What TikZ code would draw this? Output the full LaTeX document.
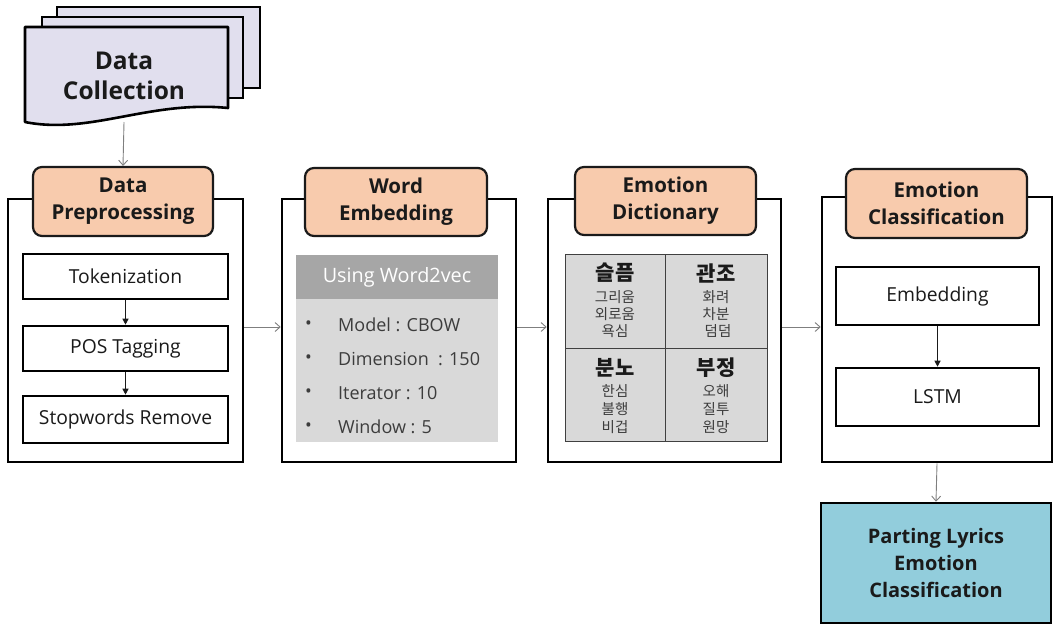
\documentclass[tikz,border=0pt]{standalone}
\usepackage{fontspec}
\setmainfont{Open Sans}
\newfontfamily\kr{Noto Sans CJK KR}
\usetikzlibrary{arrows.meta}
\definecolor{peach}{HTML}{F8CBAD}
\definecolor{lav}{HTML}{E1DFEE}
\definecolor{aqua}{HTML}{92CDDC}
\definecolor{hdr}{HTML}{A6A6A6}
\definecolor{lgray}{HTML}{D9D9D9}
\definecolor{cgray}{HTML}{7F7F7F}
\definecolor{ink}{HTML}{1A1A1A}
\begin{document}
\begin{tikzpicture}[x=1pt,y=-1pt,
  panel/.style={draw=black, line width=2.6pt, fill=white, inner sep=0pt},
  tagbox/.style={draw=ink, line width=2.2pt, fill=peach, rounded corners=9pt, inner sep=0pt, align=center, text=ink, font=\bfseries\fontsize{20.5}{27}\selectfont},
  stepbox/.style={draw=black, line width=2.6pt, fill=white, inner sep=0pt, text=ink, font=\fontsize{19.3}{22}\selectfont},
  cell/.style={draw=black!75, line width=1pt, fill=lgray, inner sep=0pt},
  khead/.style={font=\kr\bfseries\fontsize{21}{23}\selectfont, text=ink, inner sep=0pt},
  kword/.style={font=\kr\fontsize{14.5}{16}\selectfont, text=ink!85, inner sep=0pt},
  bul/.style={font=\fontsize{18}{20}\selectfont, text=ink!85, inner sep=0pt, anchor=west},
  conn/.style={draw=cgray, line width=0.9pt, -{Straight Barb[length=5pt,width=9pt]}},
  inarrow/.style={draw=ink, line width=1.1pt, -{Triangle[length=6pt,width=6pt]}}
]
\useasboundingbox (0,0) rectangle (1054,625);

% ---- Data Collection (stacked documents)
\draw[line width=2.6pt, fill=lav] (57,7) rectangle (260,88);
\draw[line width=2.6pt, fill=lav] (42,17) rectangle (243,98);
\draw[line width=2.6pt, fill=lav, line join=round]
  (25,27) -- (228,27) -- (228,108) .. controls (150,100) and (90,135) .. (25,122) -- cycle;
\node[font=\bfseries\fontsize{24.5}{30}\selectfont, align=center, text=ink] (dc) at (124,76) {Data\\Collection};
\coordinate (dcb) at (124,122);

% ---- Panel 1
\node[panel, minimum width=235pt, minimum height=263pt] (p1) at (125.5,330.5) {};
\node[tagbox, minimum width=180pt, minimum height=69pt] (t1) at (123,201.5) {Data\\Preprocessing};
\node[stepbox, minimum width=205pt, minimum height=45pt] (s1) at (125.5,276.5) {Tokenization};
\node[stepbox, minimum width=205pt, minimum height=45pt] (s2) at (125.5,348.5) {POS Tagging};
\node[stepbox, minimum width=205pt, minimum height=47pt] (s3) at (125.5,419.5) {Stopwords Remove};
\draw[inarrow] (s1) -- (s2);
\draw[inarrow] (s2) -- (s3);

% ---- Panel 2
\node[panel, minimum width=234pt, minimum height=263pt] (p2) at (399,330.5) {};
\node[tagbox, minimum width=182pt, minimum height=68pt] (t2) at (396,202) {Word\\Embedding};
\node[fill=hdr, minimum width=202pt, minimum height=44pt, inner sep=0pt, text=white, font=\fontsize{19.8}{22}\selectfont] (wh) at (397,277) {Using Word2vec};
\node[fill=lgray, minimum width=202pt, minimum height=143pt, inner sep=0pt] (wb) at (397,370.5) {};
\foreach \y/\t [count=\i] in {325/{Model : CBOW}, 359/{Dimension~~: 150}, 393/{Iterator : 10}, 427/{Window : 5}} {
  \node[bul] (b\i) at (305,\y) {\textbullet};
  \node[bul] (w\i) at (338,\y) {\t};
}

% ---- Panel 3
\node[panel, minimum width=233pt, minimum height=263pt] (p3) at (664.5,330.5) {};
\node[tagbox, minimum width=181pt, minimum height=68pt] (t3) at (665.5,201) {Emotion\\Dictionary};
\node[cell, minimum width=100pt, minimum height=94pt] (c1) at (615,301) {};
\node[cell, minimum width=102pt, minimum height=94pt] (c2) at (716,301) {};
\node[cell, minimum width=100pt, minimum height=93pt] (c3) at (615,394.5) {};
\node[cell, minimum width=102pt, minimum height=93pt] (c4) at (716,394.5) {};
\node[khead] (h1) at (615,273) {슬픔};
\node[kword] (k11) at (615,297) {그리움};
\node[kword] (k12) at (615,314) {외로움};
\node[kword] (k13) at (615,331) {욕심};
\node[khead] (h2) at (716,273) {관조};
\node[kword] (k21) at (716,297) {화려};
\node[kword] (k22) at (716,314) {차분};
\node[kword] (k23) at (718,331) {덤덤};
\node[khead] (h3) at (615,368) {분노};
\node[kword] (k31) at (615,391) {한심};
\node[kword] (k32) at (615,409) {불행};
\node[kword] (k33) at (615,427) {비겁};
\node[khead] (h4) at (716,368) {부정};
\node[kword] (k41) at (716,391) {오해};
\node[kword] (k42) at (716,409) {질투};
\node[kword] (k43) at (716,427) {원망};

% ---- Panel 4
\node[panel, minimum width=230pt, minimum height=265pt] (p4) at (937,329.5) {};
\node[tagbox, minimum width=181pt, minimum height=69pt] (t4) at (936.5,203.5) {Emotion\\Classification};
\node[stepbox, minimum width=203pt, minimum height=58pt] (e1) at (937.5,296) {Embedding};
\node[stepbox, minimum width=203pt, minimum height=58pt] (e2) at (937.5,397) {LSTM};
\draw[inarrow] (e1) -- (e2);

% ---- Final result
\node[draw=black, line width=2.6pt, fill=aqua, minimum width=230pt, minimum height=120pt, inner sep=0pt, align=center, text=ink, font=\bfseries\fontsize{20}{27}\selectfont] (fin) at (936,563) {Parting Lyrics\\Emotion\\Classification};

% ---- Connectors
\coordinate (ya) at (0,327);
\draw[conn] (dcb) -- (t1.north);
\draw[conn] (p1.east |- ya) -- (p2.west |- ya);
\draw[conn] (p2.east |- ya) -- (p3.west |- ya);
\draw[conn] (p3.east |- ya) -- (p4.west |- ya);
\draw[conn] (p4.south) -- (fin.north);
\end{tikzpicture}
\end{document}
